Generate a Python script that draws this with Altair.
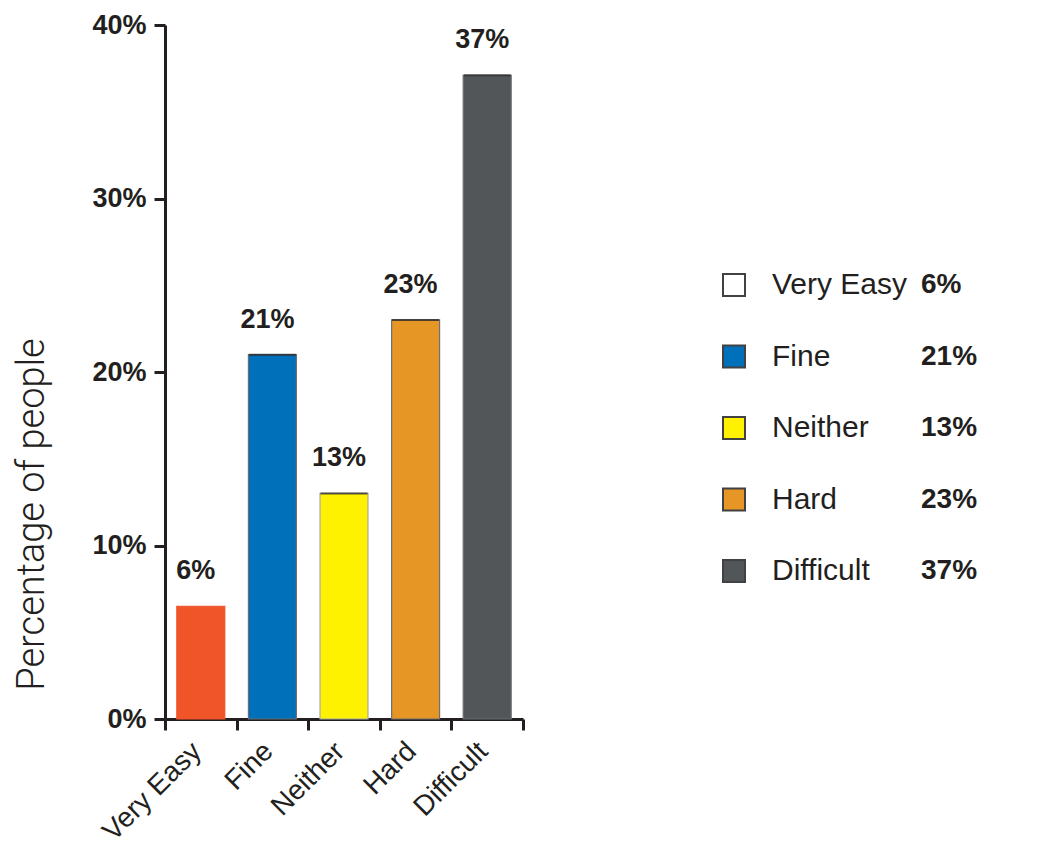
import altair as alt
import pandas as pd

categories = ["Very Easy", "Fine", "Neither", "Hard", "Difficult"]
values = [6.5, 21.0, 13.0, 23.0, 37.1]
value_labels = ["6%", "21%", "13%", "23%", "37%"]
bar_colors = ["#f05429", "#0070ba", "#fff200", "#e59624", "#525659"]
outline_colors = ["#f05429", "#6d6e71", "#a7a9ac", "#6d6e71", "#6d6e71"]
legend_colors = ["#ffffff", "#0070ba", "#fff200", "#e59624", "#525659"]
y_ticks = [0, 10, 20, 30, 40]

INK = "#231f20"

df = pd.DataFrame({"cat": categories, "value": values, "label": value_labels})

x = alt.X(
    "cat:N", sort=categories, title=None,
    scale=alt.Scale(paddingInner=0, paddingOuter=0),
    axis=alt.Axis(
        labelAngle=-45, labelFont="Liberation Sans", labelFontSize=28,
        labelColor=INK, labelPadding=7, labelOffset=-14, tickBand="extent",
        tickSize=11, tickWidth=3, tickColor=INK, domainWidth=3, domainColor=INK,
    ),
)
y = alt.Y(
    "value:Q", scale=alt.Scale(domain=[0, 40]),
    axis=alt.Axis(
        values=y_ticks, labelExpr="datum.value + '%'",
        labelFont="Liberation Sans", labelFontWeight="bold", labelFontSize=27,
        labelColor=INK, labelPadding=8, tickSize=11, tickWidth=3,
        tickColor=INK, domainWidth=3, domainColor=INK, grid=False,
        title="Percentage of people", titleFont="Roboto", titleFontWeight=300,
        titleFontSize=38, titleColor=INK, titleX=-122, titleY=489,
        titleBaseline="alphabetic", titleAngle=270,
    ),
)

base = alt.Chart(df)

bars = base.mark_bar(strokeWidth=1.2, width=alt.RelativeBandSize(0.67)).encode(
    x=x, y=y,
    fill=alt.Fill("cat:N", scale=alt.Scale(domain=categories, range=bar_colors), legend=None),
    stroke=alt.Stroke("cat:N", scale=alt.Scale(domain=categories, range=outline_colors), legend=None),
)
tops = base.transform_filter(alt.datum.cat != "Very Easy").mark_tick(
    color=INK, thickness=2, size=47
).encode(x=x, y=y)
texts = base.mark_text(
    dx=-5, dy=-35, font="Liberation Sans", fontWeight="bold", fontSize=27,
    color=INK, baseline="middle", align="center"
).encode(x=x, y=y, text="label:N")

main = alt.layer(bars, tops, texts).properties(width=358, height=694)

ly = alt.Y("cat:N", sort=categories, scale=alt.Scale(range=[260, 546], padding=0), axis=None)

squares = alt.Chart(df).mark_square(size=484, stroke="#414042", strokeWidth=2, opacity=1).encode(
    x=alt.value(209), y=ly,
    fill=alt.Fill("cat:N", scale=alt.Scale(domain=categories, range=legend_colors), legend=None),
)
names = alt.Chart(df).mark_text(
    align="left", baseline="middle", font="Liberation Sans", fontSize=30, color=INK
).encode(x=alt.value(247), y=ly, text="cat:N")
pcts = alt.Chart(df).mark_text(
    align="left", baseline="middle", font="Liberation Sans", fontWeight="bold",
    fontSize=28, color=INK
).encode(x=alt.value(396), y=ly, text="label:N")

legend = alt.layer(squares, names, pcts).properties(width=490, height=694)

chart = (
    alt.hconcat(main, legend, spacing=0)
    .resolve_scale(fill="independent", y="independent")
    .configure_view(stroke=None)
    .properties(padding={"left": 5, "top": 3, "right": 0, "bottom": 0})
)

chart.save("out.html", embed_options={"renderer": "svg", "actions": False})
